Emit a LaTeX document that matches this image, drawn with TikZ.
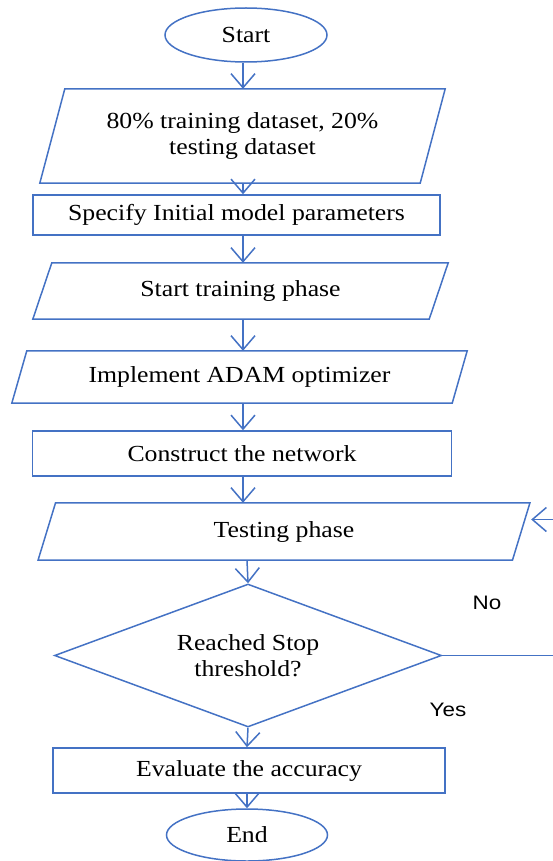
\documentclass[tikz,border=0pt]{standalone}
\usepackage{fontspec}
\setmainfont{Liberation Serif}[FakeStretch=1.12]
\newfontfamily\labelfont{Liberation Sans}[FakeStretch=1.15]
\usetikzlibrary{arrows.meta,shapes.geometric,calc}
\definecolor{flowblue}{RGB}{68,114,196}

% outline of a slanted (input/output) box around an invisible rectangle node
\newcommand\slantoutline[2]{%
  \draw[line] ($(#1.north west)+(#2,0)$) -- ($(#1.north east)+(#2,0)$)
    -- ($(#1.south east)-(#2,0)$) -- ($(#1.south west)-(#2,0)$) -- cycle;}

\begin{document}
\begin{tikzpicture}[x=1pt,y=-1pt,
  line/.style={draw=flowblue, line width=1.5pt},
  arr/.style={line, -{Straight Barb[length=14pt,width=24pt,line width=1.5pt]}},
  txt/.style={font=\fontsize{23}{26}\selectfont, text=black, align=center, inner sep=0pt},
  rectbox/.style={txt, rectangle, line},
  slantbox/.style={txt, rectangle},
  terminal/.style={txt, ellipse, line},
  decision/.style={txt, diamond, aspect=2.7, line},
  lab/.style={font=\labelfont\fontsize{19.5}{22}\selectfont, text=black, inner sep=0pt}
]
\clip (0,0) rectangle (553,861);

% process steps
\node[terminal, minimum width=162pt, minimum height=54pt] (start) at (246,35) {Start};
\node[slantbox, minimum width=380pt, minimum height=94pt] (p1) at (242.5,136)
  {80\% training dataset, 20\%\\testing dataset};
\slantoutline{p1}{12.5}
\node[rectbox, minimum width=407pt, minimum height=40pt] (r1) at (236.5,215)
  {Specify Initial model parameters};
\node[slantbox, minimum width=396pt, minimum height=56pt] (p2) at (240.5,291)
  {Start training phase};
\slantoutline{p2}{9.5}
\node[slantbox, minimum width=440pt, minimum height=52pt] (p3) at (239.5,377)
  {Implement ADAM optimizer};
\slantoutline{p3}{7.5}
\node[rectbox, minimum width=419pt, minimum height=45pt] (r2) at (242,453.5)
  {Construct the network};
\node[slantbox, minimum width=474pt, minimum height=57pt] (p4) at (284,531.5)
  {Testing phase};
\slantoutline{p4}{8.75}
\node[decision, minimum width=387pt, minimum height=143pt] (dia) at (248,655.5)
  {Reached Stop\\threshold?};
\node[rectbox, minimum width=392pt, minimum height=45pt] (r3) at (249,770.5)
  {Evaluate the accuracy};
\node[terminal, minimum width=161pt, minimum height=52pt] (end) at (247,835)
  {End};

% branch labels
\node[lab] (no) at (487,603) {No};
\node[lab] (yes) at (448,710) {Yes};

% connector columns
\coordinate (colA) at (243,0);
\coordinate (colB) at (247,0);
\coordinate (loopR) at (600,0);
\coordinate (backin) at ($(p4.east)+(10,-12)$);

\draw[arr] (start.south -| colA) -- (p1.north -| colA);
\draw[arr] (p1.south -| colA) -- (r1.north -| colA);
\draw[arr] (r1.south -| colA) -- (p2.north -| colA);
\draw[arr] (p2.south -| colA) -- (p3.north -| colA);
\draw[arr] (p3.south -| colA) -- (r2.north -| colA);
\draw[arr] (r2.south -| colA) -- (p4.north -| colA);
\draw[arr] (p4.south -| colB) -- (dia.north);
\draw[arr] (dia.south) -- (r3.north -| colB);
\draw[arr] (r3.south -| colB) -- (end.north -| colB);

% loop back when the threshold is not reached
\draw[arr] (dia.east) -- (dia.east -| loopR) -- (backin -| loopR) -- (backin);
\end{tikzpicture}
\end{document}
